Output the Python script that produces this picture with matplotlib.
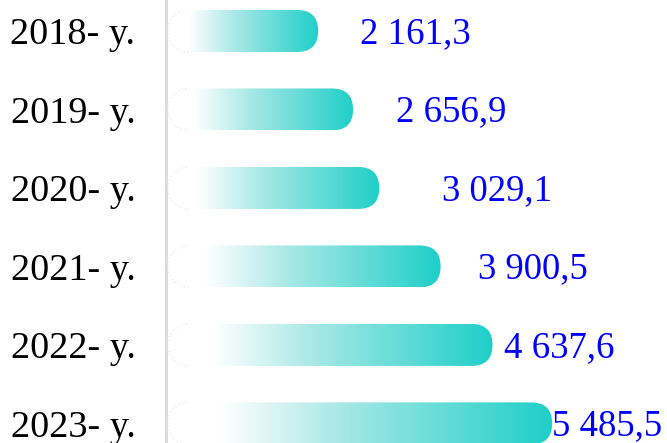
import numpy as np
import matplotlib
matplotlib.use('Agg')
import matplotlib.pyplot as plt
from matplotlib.patches import FancyBboxPatch, Arc
from matplotlib.colors import LinearSegmentedColormap

years = ['2018- y.', '2019- y.', '2020- y.', '2021- y.', '2022- y.', '2023- y.']
values = [2161.3, 2656.9, 3029.1, 3900.5, 4637.6, 5485.5]
labels = ['2 161,3', '2 656,9', '3 029,1', '3 900,5', '4 637,6', '5 485,5']

# gap between bar end and its label, in points (as in the original layout)
label_gap = [30, 31, 45, 27, 8, 0]

W, H = 667, 443
fig = plt.figure(figsize=(W/100, H/100), dpi=100)
left_px = 166
ax = fig.add_axes([left_px/W, 0, 1 - left_px/W, 1])

xmax = (W - left_px) / 0.0704
ax.set_xlim(0, xmax)
ax.set_ylim(5.25, -0.395)

# data units per pixel, used to get round caps
xu = xmax / (W - left_px)
yu = (5.25 + 0.395) / H
bar_h = 0.535
x0 = 25

cmap = LinearSegmentedColormap.from_list(
    'bar', [(0, '#ffffff'), (0.14, '#ffffff'), (0.45, '#a6e8e5'), (1, '#1fcfc9')])
grad = np.linspace(0, 1, 256).reshape(1, -1)

for i, v in enumerate(values):
    r = bar_h / 2 / yu * xu
    box = FancyBboxPatch((x0, i - bar_h/2), v - x0, bar_h,
                         boxstyle=f'round,pad=0,rounding_size={r}',
                         mutation_aspect=yu/xu, facecolor='none', edgecolor='none')
    ax.add_patch(box)
    im = ax.imshow(grad, cmap=cmap, aspect='auto', interpolation='bicubic',
                   extent=[x0, v, i + bar_h/2, i - bar_h/2], zorder=2)
    im.set_clip_path(box)
    # faint dotted outline of the left cap
    ax.add_patch(Arc((x0 + r, i), 2*r, bar_h, theta1=90, theta2=270,
                     color='#ececec', lw=1, ls=':', zorder=3))
    ax.annotate(labels[i], (v, i), xytext=(label_gap[i], -2), textcoords='offset points',
                va='center', ha='left', color='#0000ff', fontsize=26.5,
                family='Liberation Serif', zorder=4)

ax.set_xlim(0, xmax)
ax.set_ylim(5.25, -0.395)

ax.set_yticks(range(len(years)))
ax.set_yticklabels(years, family='Liberation Serif', fontsize=27.5)
ax.tick_params(axis='y', length=0, pad=22)
ax.set_xticks([])
for s in ['top', 'right', 'bottom']:
    ax.spines[s].set_visible(False)
ax.spines['left'].set_color('#d9d9d9')
ax.spines['left'].set_linewidth(2)

fig.savefig('out.png', dpi=100)
